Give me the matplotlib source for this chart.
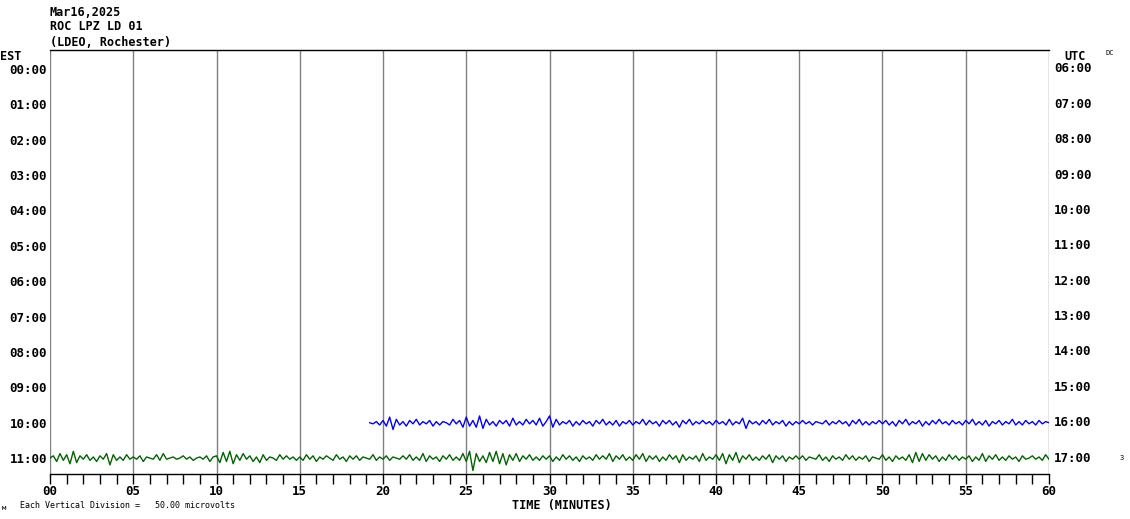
import numpy as np
import matplotlib
matplotlib.use("Agg")
import matplotlib.pyplot as plt
import matplotlib.transforms as mtransforms

# helicorder page: one row per hour, 60 minutes across
est_labels = ["00:00", "01:00", "02:00", "03:00", "04:00", "05:00",
              "06:00", "07:00", "08:00", "09:00", "10:00", "11:00"]
utc_labels = ["06:00", "07:00", "08:00", "09:00", "10:00", "11:00",
              "12:00", "13:00", "14:00", "15:00", "16:00", "17:00"]
minute_labels = ["00", "05", "10", "15", "20", "25", "30",
                 "35", "40", "45", "50", "55", "60"]
uv_per_division = 50.0
display_gain = 1.6

# row 10 (blue) starts at 19.2 min, row 11 (green) runs the full hour; samples every 0.2 min, microvolts
blue_start = 19.2
blue_uv = [0, -1, 1, -2,
           2, -3, 5, -6, 3, -2, 1, -3, 2, -1, 3, -2, 1, -1, 2, -3, 1, -2, 1, 0, -2, 3, -1, 2, -4,
           5, -3, 2, -4, 6, -5, 3, -2, 1, -3, 2, -1, 2, -3, 4, -2, 1, -2, 3, -1, 2, -2, 4, -3, 1,
           6, -4, 3, -2, 1, -1, 2, -3, 1, -2, 2, -1, 1, -3, 2, -1, 3, -2, 1, -2, 2, -3, 1, -1, 2,
           -2, 1, -1, 3, -2, 2, -1, 1, -3, 2, -1, 2, -2, 1, -4, 2, -1, 3, -2, 1, -1, 2, -1, 1, -2,
           2, -1, 1, -2, 3, -2, 1, -1, 4, -5, 2, -1, 1, -2, 2, -1, 3, -2, 1, -1, 2, -3, 1, -2, 1,
           -1, 2, -1, 1, -2, 1, 0, -1, 2, -2, 1, -1, 2, -1, 1, -3, 2, -1, 3, -2, 1, -2, 1, -1, 2,
           -1, 2, -2, 1, -3, 2, -1, 3, -2, 1, -1, 2, -3, 1, -2, 2, -1, 3, -1, 1, -2, 2, -1, 1, -2,
           2, -1, 3, -2, 1, -2, 2, -3, 1, -1, 2, -2, 1, -1, 3, -2, 1, -2, 2, -1, 1, -2, 2, -1, 1,
           0]
green_uv = [0, 2, -3, 4, -2, 3, -5, 6, -4, 2, -1, 3, -2, 1, -3, 2, -1, 4, -6, 3, -2, 1, -2, 3, -1,
            1, -1, 2, -3, 1, 0, -1, 3, -2, 4, -1, 0, 1, -1, 0, 2, -1, 1, -2, 0, 1, -1, 2, -3, 1,
            2, -4, 5, -3, 6, -5, 3, -2, 4, -1, 2, -3, 1, -4, 3, -2, 1, 0, -2, 3, -1, 2, -1, 1, -2,
            1, -2, 3, -1, 2, -3, 1, -1, 2, 0, -2, 3, -1, 1, -3, 2, -1, 2, -2, 1, 0, -1, 3, -2, 1,
            -1, 2, -2, 1, 0, -1, 2, -1, 3, -2, 1, -2, 4, -3, 2, -1, 1, -3, 2, -1, 3, -2, 1, -2, 4,
            -3, 6, -11, 4, -3, 2, -4, 5, -3, 6, -5, 4, -6, 3, -2, 4, -3, 2, -1, 3, -2, 1, -2, 2, -1,
            2, -3, 1, -2, 3, -1, 2, -2, 1, -3, 2, -1, 1, -2, 3, -1, 2, -1, 4, -3, 2, -1, 3, -2, 1,
            -2, 3, -1, 4, -3, 2, -1, 2, -3, 1, -2, 3, -1, 2, -4, 3, -2, 1, -1, 2, -3, 4, -2, 1, -1,
            3, -2, 4, -5, 3, -2, 5, -4, 2, -1, 3, -2, 1, -2, 2, -1, 3, -4, 2, -1, 2, -3, 1, -1, 2,
            -1, 2, -2, 1, 0, -1, 3, -2, 1, -3, 2, -1, 1, -2, 3, -1, 2, -2, 1, -1, 2, -3, 1, 0, -1,
            3, -2, 1, -3, 2, -1, 1, -2, 3, -4, 5, -3, 4, -2, 3, -1, 2, -3, 1, -2, 3, -1, 2, -2, 1,
            -1, 2, -3, 1, -2, 4, -3, 2, -1, 3, -2, 1, -2, 2, -1, 1, -3, 2, -1, 0, 2, -1, 1, -2, 3,
            -1]
step = 0.2

W, H = 1130, 519
fig = plt.figure(figsize=(W / 100, H / 100), dpi=100)
ax = fig.add_axes([50 / W, 1 - 474 / H, 999 / W, 424 / H])

mono = "DejaVu Sans Mono"

t_green = np.arange(len(green_uv)) * step
t_blue = blue_start + np.arange(len(blue_uv)) * step
# upward deflection = positive voltage; rows run downward
ax.plot(t_green, 11 - display_gain * np.array(green_uv) / uv_per_division,
        color="#006400", lw=1.0)
ax.plot(t_blue, 10 - display_gain * np.array(blue_uv) / uv_per_division,
        color="#0000ff", lw=1.0)

ax.set_xlim(0, 60)
ax.set_ylim(11.45, -0.537)

for m in range(0, 61, 5):
    ax.axvline(m, color="#808080", lw=1.0, zorder=0)

ax.set_xticks(range(0, 61, 5))
ax.set_xticklabels(minute_labels, fontfamily=mono, fontweight="bold", fontsize=9)
ax.set_xticks(range(0, 61), minor=True)
ax.tick_params(axis="x", which="both", direction="out", length=7, width=1, color="black", pad=1)

ax.set_yticks(range(12))
ax.set_yticklabels(est_labels, fontfamily=mono, fontweight="bold", fontsize=9)
ax.tick_params(axis="y", length=0, pad=2)
trans = mtransforms.blended_transform_factory(ax.transAxes, ax.transData)
for i, lab in enumerate(utc_labels):
    ax.text(1.005, i, lab, transform=trans, ha="left", va="center",
            fontfamily=mono, fontweight="bold", fontsize=9)

for side in ["left", "right"]:
    ax.spines[side].set_visible(False)
ax.spines["top"].set_linewidth(1)
ax.spines["bottom"].set_linewidth(1)

def ftext(x, y, s, **kw):
    fig.text(x / W, 1 - y / H, s, fontfamily=mono, **kw)

ftext(50, 12, "Mar16,2025", fontweight="bold", fontsize=8.5, va="center")
ftext(50, 27, "ROC LPZ LD 01", fontweight="bold", fontsize=8.5, va="center")
ftext(50, 42, "(LDEO, Rochester)", fontweight="bold", fontsize=8.5, va="center")
ftext(0, 56, "EST", fontweight="bold", fontsize=8.5, va="center")
ftext(1064, 56, "UTC", fontweight="bold", fontsize=8.5, va="center")
ftext(1105, 53, "DC", fontsize=5, va="center")
ftext(1120, 458, "3", fontsize=5, va="center")
ftext(562, 505, "TIME (MINUTES)", fontweight="bold", fontsize=8.5, va="center", ha="center")
ftext(20, 506, "Each Vertical Division =   50.00 microvolts", fontsize=6, va="center")
ftext(2, 508, "м", fontsize=5, va="center")

fig.savefig("out.png", dpi=100)
